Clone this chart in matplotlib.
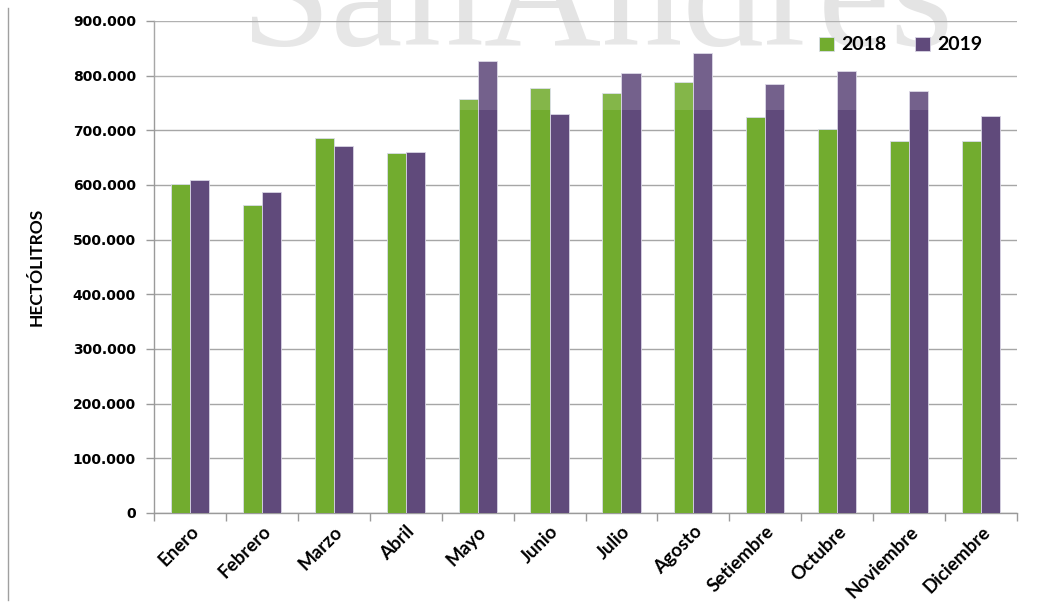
import matplotlib
matplotlib.use("Agg")
import matplotlib.pyplot as plt
from matplotlib.lines import Line2D
from matplotlib.ticker import FuncFormatter, MultipleLocator
import numpy as np

months = ["Enero", "Febrero", "Marzo", "Abril", "Mayo", "Junio", "Julio",
          "Agosto", "Setiembre", "Octubre", "Noviembre", "Diciembre"]
v2018 = [601000, 563000, 686000, 658000, 758000, 778000, 768000,
         788000, 725000, 702000, 680000, 681000]
v2019 = [609000, 588000, 672000, 661000, 826000, 729000, 805000,
         841000, 784000, 808000, 772000, 727000]
series_labels = ["2018", "2019"]

green = "#72ac2f"
purple = "#604a7b"

fig = plt.figure(figsize=(10.44, 6.05), dpi=100)
ax = fig.add_axes([154/1044, 1-513/605, (1017-154)/1044, (513-21)/605])
ax.set_facecolor("none")

x = np.arange(len(months))
w = 0.265
ax.bar(x - w/2, v2018, w, color=green, edgecolor="#d8dce8", linewidth=0.6,
       label=series_labels[0], zorder=3)
ax.bar(x + w/2, v2019, w, color=purple, edgecolor="#d8d4e4", linewidth=0.6,
       label=series_labels[1], zorder=3)

# translucent watermark band
ax.axhspan(737000, 900000, color="white", alpha=0.13, zorder=4, lw=0)

ax.set_xlim(-0.5, len(months) - 0.5)
ax.set_ylim(0, 900000)
ax.yaxis.set_major_locator(MultipleLocator(100000))
ax.yaxis.set_major_formatter(FuncFormatter(
    lambda v, p: "0" if v == 0 else f"{int(v):,}".replace(",", ".")))
ax.grid(axis="y", color="#a6a6a6", linewidth=1.0, zorder=1)
ax.set_axisbelow(True)

ax.set_xticks(np.arange(-0.5, len(months), 1.0), minor=False)
ax.set_xticklabels([])
ax.set_xticks(x, minor=True)
ax.set_xticklabels(months, minor=True, rotation=45, ha="right",
                   rotation_mode="anchor", fontsize=13.5, fontweight="bold",
                   family="Lato")
ax.tick_params(axis="x", which="minor", length=0, pad=7)
ax.tick_params(axis="x", which="major", length=6, color="#9a9a9a", width=1)
ax.tick_params(axis="y", length=6, color="#9a9a9a", width=1, pad=7)
for lab in ax.get_yticklabels():
    lab.set_fontweight("bold")
    lab.set_fontsize(10)
    lab.set_family("DejaVu Sans")

for s in ["top", "right"]:
    ax.spines[s].set_visible(False)
for s in ["left", "bottom"]:
    ax.spines[s].set_color("#9a9a9a")
    ax.spines[s].set_linewidth(1)

ax.set_ylabel("HECTÓLITROS", fontsize=12.5, fontweight="bold", family="Lato",
              labelpad=20)

leg = ax.legend(ncol=2, loc="center right", bbox_to_anchor=(1000/1044, 1-45/605),
                bbox_transform=fig.transFigure, frameon=False,
                prop={"family": "Lato", "weight": "bold", "size": 14},
                handlelength=0.75, handleheight=0.75, handletextpad=0.4,
                columnspacing=1.45)

# watermark text
fig.text(240/1044, 1-45/605, "SanAndres", family="Liberation Serif",
         fontsize=117, color="#e4e4e4", va="baseline", ha="left", zorder=-1)

# left border line
fig.add_artist(Line2D([8/1044, 8/1044], [1-600/605, 1-8/605],
                      transform=fig.transFigure, color="#a0a0a0", lw=1))

fig.savefig("out.png", dpi=100)
